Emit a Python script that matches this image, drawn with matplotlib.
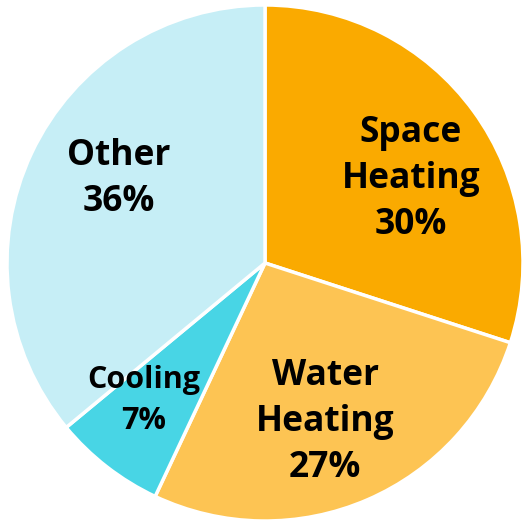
import matplotlib
matplotlib.use("Agg")
import matplotlib.pyplot as plt

labels = ["Space\nHeating\n30%", "Water\nHeating\n27%", "Cooling\n7%", "Other\n36%"]
values = [30, 27, 7, 36]
colors = ["#FAAA00", "#FDC453", "#48D5E5", "#C6EEF6"]
label_pos = [(0.566, 0.326), (0.233, -0.617), (-0.471, -0.533), (-0.568, 0.326)]
label_sizes = [25.5, 25.5, 22, 25.5]
label_spacing = [1.36, 1.36, 1.45, 1.36]

plt.rcParams['font.family'] = ['Open Sans', 'DejaVu Sans']
fig = plt.figure(figsize=(5.23, 5.25), dpi=100)
ax = fig.add_axes([0, 0, 1, 1])
ax.pie(values, colors=colors, startangle=90, counterclock=False, radius=1,
       wedgeprops=dict(edgecolor="white", linewidth=2.5))
for lab, (x, y), s, ls in zip(labels, label_pos, label_sizes, label_spacing):
    ax.text(x, y, lab, ha="center", va="center", fontsize=s, fontweight="bold",
            color="black", linespacing=ls)
ax.set_xlim(-265/258, 258/258)
ax.set_ylim(-262/258, 263/258)
ax.set_aspect("equal")
ax.axis("off")
fig.savefig("out.png", dpi=100)
